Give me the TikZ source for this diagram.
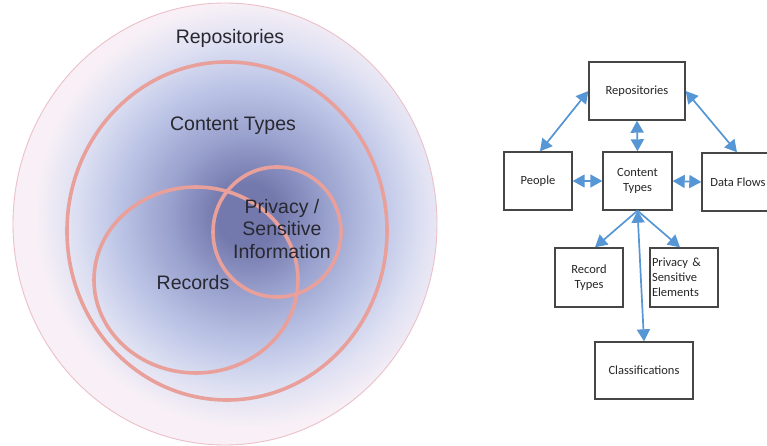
\documentclass[tikz,border=0pt]{standalone}
\usepackage{fontspec}
\setmainfont{Liberation Sans}
\newfontfamily\boxfont{Carlito}
\usetikzlibrary{arrows.meta}
\definecolor{vcen}{RGB}{116,121,173}
\definecolor{vmid}{RGB}{152,160,205}
\definecolor{vlite}{RGB}{188,196,230}
\definecolor{vpale}{RGB}{220,223,242}
\definecolor{vout}{RGB}{248,240,246}
\definecolor{ringpink}{RGB}{233,160,155}
\definecolor{rimpink}{RGB}{236,192,200}
\definecolor{arrowblue}{RGB}{86,150,212}
\definecolor{boxgray}{RGB}{70,70,70}
\definecolor{txtdark}{RGB}{40,40,48}
\pgfdeclareradialshading{vennshade}{\pgfpoint{0bp}{0bp}}{%
  color(0bp)=(vcen); color(3bp)=(vcen); color(7.5bp)=(vmid);
  color(12.5bp)=(vlite); color(16.5bp)=(vpale); color(20.5bp)=(vout); color(25bp)=(vout); color(50bp)=(vout)}
\tikzset{
  ring/.style={draw=ringpink, line width=3.6pt},
  venntext/.style={font=\fontsize{19.5}{22.5}\selectfont, text=txtdark, align=center},
  box/.style={draw=boxgray, line width=1.4pt, fill=white, font=\boxfont\fontsize{12.5}{15}\selectfont,
    text=black!85, align=center, inner sep=2pt},
  link/.style={draw=arrowblue, line width=1.7pt},
  both/.style={link, {Triangle[length=12pt,width=13pt]}-{Triangle[length=12pt,width=13pt]}},
  one/.style={link, -{Triangle[length=12pt,width=13pt]}},
}
\begin{document}
\begin{tikzpicture}[x=1pt,y=-1pt]
\clip (0,0) rectangle (767,446);
\fill[white] (0,0) rectangle (767,446);
% Venn diagram
\begin{scope}
\clip (225,224) ellipse [x radius=212, y radius=221];
\fill[vout] (225,224) ellipse [x radius=212, y radius=221];
\shade[shading=vennshade] (248,215) circle [radius=260];
\end{scope}
\draw[rimpink, line width=0.9pt] (225,224) ellipse [x radius=212, y radius=221];
\draw[ring] (227,231) ellipse [x radius=160, y radius=169];
\draw[ring] (196,280) ellipse [x radius=102, y radius=93];
\draw[ring] (277,232) ellipse [x radius=64, y radius=65];
\node[venntext] (trep) at (230,38) {Repositories};
\node[venntext] (tct) at (233,126) {Content Types};
\node[venntext] (tpriv) at (282,229) {Privacy /\\Sensitive\\Information};
\node[venntext] (trec) at (193,283) {Records};
% Box diagram
\node[box, minimum width=96pt, minimum height=58pt] (rep) at (637,91) {Repositories};
\node[box, minimum width=68pt, minimum height=58pt] (ppl) at (538,181) {People};
\node[box, minimum width=69pt, minimum height=58pt] (ct) at (637.5,181) {Content\\Types};
\node[box, minimum width=72pt, minimum height=58pt] (df) at (738,182) {Data Flows};
\node[box, minimum width=68pt, minimum height=59pt] (rt) at (589,277.5) {Record\\Types};
\node[box, minimum width=68pt, minimum height=59pt, text width=64pt, align=left, inner sep=1pt] (pse) at (684,277.5) {Privacy \&\\Sensitive\\Elements};
\node[box, minimum width=98pt, minimum height=57pt] (cls) at (644,370.5) {Classifications};
\draw[both] (rep.west) -- ([xshift=2pt]ppl.north);
\draw[both] (rep.east) -- ([xshift=-1pt]df.north);
\draw[both] (rep.south) -- (ct.north);
\draw[both] (ppl.east) -- (ct.west);
\draw[both] (ct.east) -- (df.west);
\draw[one] (ct.south) -- ([xshift=6pt]rt.north);
\draw[one] (ct.south) -- ([xshift=-4pt]pse.north);
\draw[both] (ct.south) -- (cls.north);
\end{tikzpicture}
\end{document}
